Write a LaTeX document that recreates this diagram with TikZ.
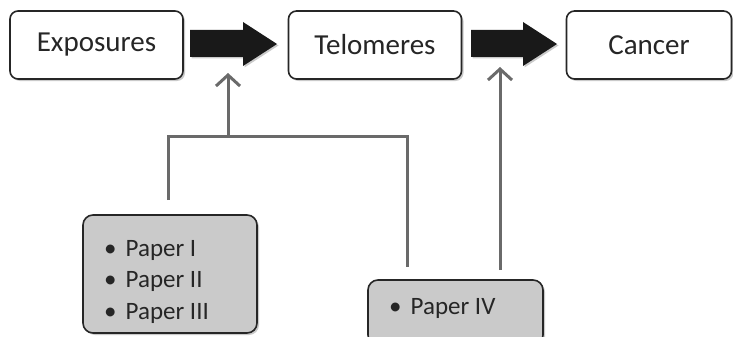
\documentclass[tikz,border=0pt]{standalone}
\usepackage{fontspec}
\setmainfont{Carlito}
\usetikzlibrary{arrows.meta,shadows,positioning}
\definecolor{conn}{HTML}{6A6A6A}
\definecolor{paperfill}{HTML}{CACACA}
\tikzset{
  mainbox/.style={draw=black!85,line width=1.6pt,rounded corners=8pt,fill=white,
    drop shadow={shadow xshift=2pt,shadow yshift=-2pt,fill=black!35,opacity=0.6},
    minimum width=173pt,minimum height=68pt,font=\fontsize{29}{34}\selectfont,text=black!85,inner sep=0pt},
  paperbox/.style={draw=black!85,line width=1.6pt,rounded corners=10pt,fill=paperfill,
    drop shadow={shadow xshift=2pt,shadow yshift=-2pt,fill=black!35,opacity=0.6}},
  bigarrow/.style={fill=black!90,draw=none,
    drop shadow={shadow xshift=1.5pt,shadow yshift=-1.5pt,fill=black!35,opacity=0.6}},
  connline/.style={draw=conn,line width=3pt},
  connarrow/.style={connline,-{Straight Barb[length=11pt,width=24pt,line width=3pt]}},
  papertext/.style={font=\fontsize{25}{31.5}\selectfont,text=black!85,inner sep=0pt,anchor=west,align=left}
}
\begin{document}
\begin{tikzpicture}[x=1pt,y=-1pt]
\useasboundingbox (0,0) rectangle (733,337);
% main boxes
\node[mainbox] (exp) at (96.5,45) {Exposures};
\node[mainbox] (tel) at (375,45) {Telomeres};
\node[mainbox,minimum width=165pt] (can) at (649,45) {Cancer};
% big arrows
\path[bigarrow] (190,30) -- (243,30) -- (243,22) -- (277,44) -- (243,66) -- (243,57) -- (190,57) -- cycle;
\path[bigarrow] (471,30) -- (523,30) -- (523,22) -- (557,44) -- (523,66) -- (523,57) -- (471,57) -- cycle;
% paper boxes
\path[paperbox] (83,215) rectangle (257,333);
\path[paperbox] (368,280) rectangle (543,345);
\node[papertext] (p1) at (104,250) {\textbullet\hspace{9pt}Paper I};
\node[papertext] (p2) at (104,281.5) {\textbullet\hspace{9pt}Paper II};
\node[papertext] (p3) at (104,313) {\textbullet\hspace{9pt}Paper III};
\node[papertext] (p4) at (389,308) {\textbullet\hspace{9pt}Paper IV};
% connectors
\coordinate (jl) at (168,200);
\coordinate (jr) at (407,267);
\coordinate (jm) at (228,136);
\coordinate (t1) at (228,73);
\coordinate (s2) at (500,270);
\coordinate (t2) at (500,67);
\draw[connline,line join=miter] (jl) |- (jm) -| (jr);
\draw[connarrow] (jm) -- (t1);
\draw[connarrow] (s2) -- (t2);
\end{tikzpicture}
\end{document}
